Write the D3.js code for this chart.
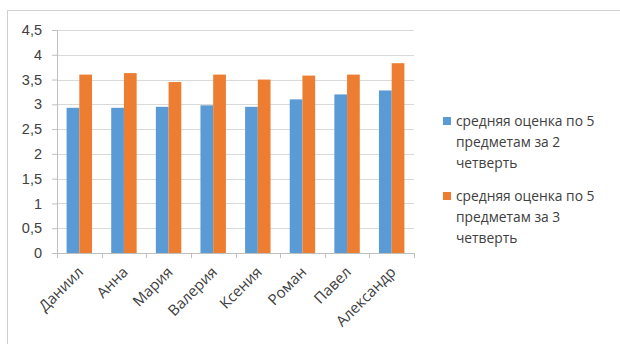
<!DOCTYPE html>
<html>
<head>
<meta charset="utf-8">
<script src="https://cdn.jsdelivr.net/npm/d3@7"></script>
<style>
  body { margin: 0; background: #fff; }
  svg { display: block; font-family: 'Open Sans', sans-serif; }
</style>
</head>
<body>
<div id="chart"></div>
<script>
const names = ['Даниил', 'Анна', 'Мария', 'Валерия', 'Ксения', 'Роман', 'Павел', 'Александр'];
const q2 = [2.93, 2.93, 2.95, 2.98, 2.95, 3.10, 3.20, 3.28];
const q3 = [3.60, 3.63, 3.45, 3.60, 3.50, 3.58, 3.60, 3.83];
const yTicks = [0, 0.5, 1, 1.5, 2, 2.5, 3, 3.5, 4, 4.5];
const seriesNames = [
  ['средняя оценка по 5', 'предметам за 2', 'четверть'],
  ['средняя оценка по 5', 'предметам за 3', 'четверть']
];
const colors = ['#5b9bd5', '#ed7d31'];

const width = 620, height = 344;
const margin = { top: 30, left: 57, right: 206, bottom: 91 };
const innerW = width - margin.left - margin.right;
const innerH = height - margin.top - margin.bottom;

const svg = d3.select('#chart').append('svg')
  .attr('width', width)
  .attr('height', height);

// chart frame (runs off the bottom/right of the picture)
svg.append('rect')
  .attr('x', 7.5).attr('y', 10.5)
  .attr('width', 700).attr('height', 400)
  .attr('fill', 'none')
  .attr('stroke', '#d0d0d0');

const g = svg.append('g')
  .attr('transform', `translate(${margin.left}, ${margin.top})`);

const x0 = d3.scaleBand()
  .domain(names)
  .range([0, innerW])
  .paddingInner(0.43)
  .paddingOuter(0.215);
const x1 = d3.scaleBand()
  .domain([0, 1])
  .range([0, x0.bandwidth()]);
const y = d3.scaleLinear().domain([0, 4.5]).range([innerH, 0]);
const step = x0.step();

// gridlines
g.selectAll('.grid')
  .data(yTicks.filter(d => d > 0))
  .enter().append('line')
  .attr('class', 'grid')
  .attr('x1', 0).attr('x2', innerW)
  .attr('y1', d => Math.round(y(d)) + 0.5)
  .attr('y2', d => Math.round(y(d)) + 0.5)
  .attr('stroke', '#d9d9d9');

// bars
const data = names.map((n, i) => ({ name: n, vals: [q2[i], q3[i]] }));
const groups = g.selectAll('.grp').data(data).enter().append('g')
  .attr('transform', d => `translate(${x0(d.name)}, 0)`);
groups.selectAll('rect')
  .data(d => d.vals.map((v, k) => ({ v, k })))
  .enter().append('rect')
  .attr('x', d => x1(d.k))
  .attr('y', d => y(d.v))
  .attr('width', x1.bandwidth())
  .attr('height', d => innerH - y(d.v))
  .attr('fill', d => colors[d.k]);

// y axis
const yAxis = g.append('g')
  .call(d3.axisLeft(y).tickValues(yTicks).tickSize(5).tickPadding(10)
    .tickFormat(d => String(d).replace('.', ',')));
yAxis.select('.domain').attr('stroke', '#bfbfbf').attr('d', `M0.5,0V${innerH}`);
yAxis.selectAll('.tick line').attr('stroke', '#bfbfbf');
yAxis.selectAll('text').attr('fill', '#404040').style('font-size', '14.5px');

// x axis
const xAxis = g.append('g')
  .attr('transform', `translate(0, ${innerH})`);
xAxis.append('line')
  .attr('x1', 0).attr('x2', innerW)
  .attr('y1', 0.5).attr('y2', 0.5)
  .attr('stroke', '#bfbfbf');
xAxis.selectAll('.xt')
  .data(d3.range(names.length + 1))
  .enter().append('line')
  .attr('x1', i => Math.round(i * step) + 0.5)
  .attr('x2', i => Math.round(i * step) + 0.5)
  .attr('y1', 0).attr('y2', 5)
  .attr('stroke', '#bfbfbf');
xAxis.selectAll('.xl')
  .data(names)
  .enter().append('text')
  .attr('transform', d => `translate(${x0(d) + x0.bandwidth() / 2 + 5}, 20) rotate(-45)`)
  .attr('text-anchor', 'end')
  .attr('fill', '#404040')
  .style('font-size', '15px')
  .text(d => d);

// legend
const legend = svg.append('g').attr('transform', 'translate(443, 0)');
seriesNames.forEach((lines, k) => {
  const top = 117 + k * 75;
  legend.append('rect')
    .attr('x', 0).attr('y', top)
    .attr('width', 8).attr('height', 8)
    .attr('fill', colors[k]);
  legend.append('text')
    .attr('x', 13).attr('y', top + 9)
    .attr('fill', '#404040')
    .style('font-size', '13.8px')
    .selectAll('tspan')
    .data(lines)
    .enter().append('tspan')
    .attr('x', 13)
    .attr('dy', (d, i) => i === 0 ? 0 : 21)
    .text(d => d);
});
</script>
</body>
</html>
